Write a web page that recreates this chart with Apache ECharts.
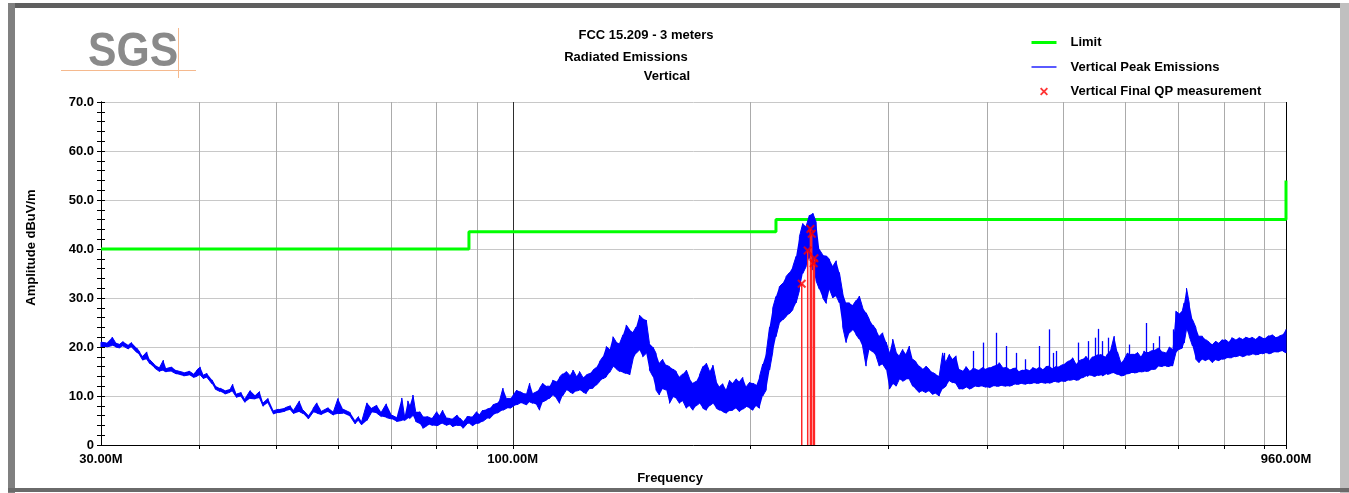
<!DOCTYPE html>
<html>
<head>
<meta charset="utf-8">
<script src="https://cdn.jsdelivr.net/npm/echarts@6/dist/echarts.min.js"></script>
<style>
html, body { margin: 0; padding: 0; background: #ffffff; }
#chart { width: 1349px; height: 493px; }
</style>
</head>
<body>
<div id="chart"></div>
<script>
// ---------------- data ----------------
// Peak emission trace: at each frequency (MHz) the lower and upper edge of the noisy band (dBuV/m)
const peakFreq = [
  30.0, 30.5, 31.0, 31.3, 31.7, 32.0, 32.5, 32.8, 33.3, 33.6, 33.9, 34.3, 34.6, 35.1, 35.6, 36.0, 36.3, 36.9, 37.4, 38.2,
  38.8, 39.3, 39.7, 40.1, 40.5, 40.9, 41.5, 41.9, 42.5, 43.1, 43.8, 44.1, 44.6, 45.2, 45.7, 46.4, 47.1, 47.7, 48.2, 48.9,
  49.7, 50.4, 51.4, 52.2, 52.7, 53.6, 54.2, 55.0, 55.8, 56.4, 57.2, 58.3, 59.2, 60.0, 60.9, 62.2, 63.1, 63.7, 64.3, 65.3,
  66.2, 67.2, 68.1, 69.1, 70.2, 71.2, 72.3, 72.9, 73.6,
  74.0, 74.7, 75.3, 76.2, 76.9, 77.8, 78.5, 79.1, 80.1, 80.8, 81.5, 82.5, 83.3, 84.0, 85.0, 85.7, 86.5, 87.5, 88.2, 89.0,
  90.0, 90.8, 91.6, 92.7, 93.5, 94.4, 95.5, 96.3, 97.2, 98.3, 99.2, 100.0, 101.2, 102.1, 103.0, 104.2, 105.1, 106.1, 107.3, 108.2,
  109.2, 110.5, 111.4, 112.4, 113.7, 114.7,
  115.7, 117.0, 118.2, 119.3, 120.5, 121.6, 122.8, 124.0, 125.3, 126.5, 127.7, 128.9, 130.2, 131.5, 132.8, 134.1, 135.4, 136.7, 138.1, 139.4,
  140.8, 142.2, 143.5, 144.9, 146.3, 147.8, 149.2, 150.7, 152.1, 153.6, 155.1, 156.7, 158.2, 159.8, 161.4, 162.9, 164.5, 166.2, 167.8, 169.4,
  171.1, 172.7, 174.4, 176.2, 177.9, 179.6, 181.4, 183.1, 184.9, 186.8, 188.6, 190.4, 192.3, 194.1, 196.0, 198.0, 200.0, 201.9, 203.9, 205.8,
  207.8, 209.9, 212.0, 214.0, 216.0, 218.1, 220.3, 222.5, 224.7, 226.9, 229.1, 231.3, 233.6, 235.9, 238.2, 240.6, 242.9,
  245.2, 247.7, 250.2, 252.6, 255.1, 257.6, 260.0, 262.6, 265.2, 267.8, 270.4, 273.0, 275.6, 278.4, 281.1, 283.9, 286.7, 289.4, 292.2, 295.1,
  298.1, 301.0, 303.9, 306.9, 309.8, 312.9, 316.0, 319.1, 322.2, 325.3, 328.4, 331.7, 335.0, 338.3, 341.6, 344.9, 348.2, 351.7, 355.2, 358.7,
  362.2, 365.7, 369.2, 372.9, 376.6, 380.3, 384.0, 387.7, 391.4, 395.3, 399.3, 403.2, 407.1, 411.1, 415.0, 419.1, 423.3, 427.5, 431.6, 435.8,
  439.9, 444.3, 448.7, 453.2, 457.6, 462.0, 466.4, 471.1, 475.8, 480.5, 485.1, 489.8, 494.5, 499.4, 504.4, 509.4, 514.3, 519.3, 524.2,
  529.5, 534.8, 537.4, 540.0, 545.2, 549.5, 553.8, 558.6, 561.3, 566.9, 569.6, 575.2, 580.8, 586.4, 592.2, 598.1, 603.9, 609.8, 615.6, 621.7,
  627.7, 633.9, 637.1, 643.5, 649.7, 656.1, 662.3, 668.9, 675.6, 682.2, 688.9, 695.6, 702.2, 709.2, 712.7, 717.6, 723.3, 730.3, 737.5, 744.4,
  751.8, 759.2, 766.8, 774.2, 781.8, 789.2, 796.6, 804.0, 811.7, 819.3, 828.0, 836.7, 844.6, 852.7, 860.6, 868.8, 877.1, 887.1, 895.4, 903.9,
  912.8, 921.6, 930.5, 940.5, 950.5, 960.0
];
const peakLow = [
  20.0, 20.0, 20.3, 20.0, 19.8, 20.2, 19.6, 20.0, 18.9, 18.3, 17.3, 17.5, 16.6, 15.7, 15.0, 15.2, 14.9, 15.0, 14.5, 14.1,
  14.3, 13.8, 14.0, 14.3, 13.5, 13.8, 12.5, 11.4, 10.9, 10.4, 10.8, 10.9, 9.7, 9.9, 8.7, 9.5, 9.4, 9.6, 7.9, 8.6,
  6.3, 6.6, 6.9, 7.2, 6.4, 6.8, 6.4, 5.3, 6.7, 6.5, 6.2, 6.8, 6.1, 6.4, 6.5, 5.8, 4.3, 5.0, 4.1, 5.0,
  6.7, 6.5, 5.8, 5.6, 5.3, 4.8, 5.0, 5.0, 5.5,
  5.4, 6.0, 4.8, 4.4, 3.4, 3.9, 4.2, 4.0, 3.9, 4.2, 4.4, 4.0, 4.2, 3.7, 4.0, 4.0, 3.4, 4.3, 4.4, 3.9,
  4.4, 4.5, 4.8, 5.4, 5.4, 6.1, 6.5, 6.8, 7.1, 7.5, 7.5, 7.8, 8.2, 8.5, 8.5, 8.2, 8.8, 8.5, 8.2, 7.1,
  8.8, 9.2, 9.5, 10.2, 9.5, 8.5,
  10.0, 11.2, 10.8, 10.5, 11.0, 11.2, 10.8, 10.5, 11.5, 11.6, 12.2, 12.9, 13.5, 13.9, 14.8, 16.0, 15.5, 15.0, 14.8, 14.6,
  14.3, 17.5, 18.7, 19.4, 18.0, 18.7, 15.3, 14.0, 11.2, 10.2, 11.5, 11.2, 8.5, 9.8, 9.5, 8.5, 9.0, 7.5, 8.0, 7.1,
  8.0, 8.5, 7.5, 7.1, 8.0, 8.5, 7.5, 7.1, 6.8, 6.5, 7.0, 7.1, 7.5, 6.8, 7.3, 7.8, 7.5, 7.1, 8.0, 7.5,
  10.0, 11.2, 15.3, 19.0, 22.1, 24.8, 25.5, 26.2, 26.8, 27.6, 29.0, 31.5, 35.0, 36.4, 38.4, 35.7, 33.5,
  31.8, 30.0, 28.9, 31.8, 30.0, 30.4, 29.0, 24.0, 20.9, 22.9, 23.5, 22.5, 21.6, 20.0, 16.1, 19.5, 19.0, 18.2, 16.1, 16.5,
  15.4, 11.4, 12.5, 12.0, 13.4, 13.0, 13.4, 13.4, 12.0, 11.4, 10.7, 11.0, 10.7, 11.0, 10.3, 10.5, 10.0, 11.5, 12.0, 13.1,
  12.7, 12.5, 11.4, 11.4, 11.8, 11.4, 11.7, 12.0, 11.9, 12.0, 11.8, 11.7, 12.0, 12.0, 12.0, 12.1, 12.0, 12.0, 12.2, 12.4,
  12.4, 12.5, 12.4, 12.5, 12.6, 12.6, 12.6, 12.7, 12.6, 12.6, 12.8, 12.9, 12.8, 13.0, 13.0, 13.2, 13.3, 13.2, 13.3,
  13.7, 14.1, 14.0, 14.2, 14.1, 14.0, 14.2, 14.3, 14.1, 14.5, 14.4, 14.6, 14.7, 14.4, 14.1, 14.2, 14.5, 14.7, 14.7, 14.8,
  14.9, 15.0, 15.0, 15.1, 15.4, 15.5, 16.1, 16.0, 16.1, 16.0, 16.1, 18.8, 19.5, 19.8, 20.8, 23.6, 22.2, 20.2, 17.5, 16.8,
  17.5, 17.2, 17.5, 16.8, 17.4, 17.2, 17.5, 17.6, 17.8, 17.8, 18.0, 18.2, 18.0, 18.2, 18.3, 18.5, 18.4, 18.5, 18.6, 18.8,
  18.6, 18.8, 19.0, 19.0, 19.2, 18.8
];
const peakHigh = [
  21.0, 20.8, 22.0, 20.9, 20.6, 21.1, 20.4, 20.9, 19.8, 19.0, 18.1, 19.0, 17.4, 16.4, 15.8, 17.3, 15.6, 15.9, 15.2, 14.8,
  15.1, 14.5, 15.3, 15.9, 14.3, 14.6, 13.3, 12.1, 11.6, 11.1, 11.5, 12.4, 10.4, 10.7, 9.4, 11.1, 10.1, 10.9, 8.6, 9.5,
  7.0, 7.3, 7.6, 8.0, 7.1, 9.0, 7.1, 6.0, 7.5, 8.6, 6.9, 7.6, 6.8, 9.5, 7.3, 6.6, 5.0, 5.8, 4.8, 8.6,
  7.5, 8.1, 6.7, 8.4, 6.1, 5.6, 9.6, 5.8, 9.0,
  8.0, 10.2, 6.8, 6.8, 5.8, 5.8, 5.6, 5.5, 6.8, 6.0, 7.1, 5.5, 5.4, 5.4, 6.1, 5.5, 4.8, 5.8, 5.8, 5.8,
  6.8, 6.2, 7.1, 7.3, 7.5, 8.2, 8.5, 9.2, 11.6, 9.5, 9.5, 10.0, 11.2, 10.9, 10.6, 10.5, 12.6, 10.5, 10.9, 11.6,
  12.6, 12.0, 12.0, 13.2, 12.9, 13.9,
  14.5, 15.0, 14.2, 15.3, 14.0, 15.0, 13.8, 14.3, 14.6, 15.3, 15.8, 17.0, 18.0, 20.1, 19.5, 22.1, 21.0, 20.7, 22.5, 24.5,
  23.5, 23.0, 24.1, 26.5, 25.8, 25.5, 20.7, 20.0, 18.7, 16.7, 17.5, 16.3, 16.0, 15.5, 15.0, 13.9, 14.5, 15.3, 13.5, 12.6,
  13.0, 14.3, 16.0, 16.7, 15.0, 16.3, 13.0, 11.9, 12.5, 11.2, 13.2, 12.6, 13.5, 12.9, 13.8, 11.9, 12.8, 12.6, 12.2, 13.9,
  16.5, 18.7, 24.1, 28.0, 30.3, 32.3, 33.0, 34.4, 35.2, 36.4, 38.5, 42.5, 45.2, 44.6, 46.9, 47.3, 45.5,
  39.9, 38.8, 38.6, 37.9, 36.5, 37.6, 35.2, 31.0, 29.0, 29.0, 28.5, 29.5, 30.4, 28.0, 27.0, 25.6, 24.5, 23.6, 22.2, 22.9,
  21.0, 18.8, 21.6, 19.0, 18.2, 19.5, 18.5, 20.2, 17.5, 17.0, 16.1, 15.5, 16.1, 15.4, 14.8, 14.4, 14.1, 18.8, 17.0, 18.5,
  17.5, 18.2, 15.4, 15.1, 16.0, 15.1, 15.6, 15.5, 15.3, 15.8, 15.5, 15.8, 16.0, 16.2, 16.8, 15.8, 15.9, 15.4, 15.6, 15.7,
  15.0, 15.3, 15.4, 15.2, 15.8, 15.5, 15.9, 15.4, 16.0, 16.1, 15.6, 16.0, 16.0, 16.4, 16.8, 17.2, 17.8, 16.5, 17.2,
  17.5, 18.1, 17.8, 17.2, 18.0, 18.2, 18.4, 18.5, 18.3, 18.0, 18.6, 19.5, 22.2, 19.0, 16.8, 17.5, 18.8, 18.5, 18.5, 18.9,
  18.0, 19.2, 19.0, 19.0, 19.3, 19.5, 19.8, 19.0, 18.8, 20.0, 19.5, 27.3, 26.8, 27.5, 29.0, 32.0, 29.0, 25.6, 24.0, 22.2,
  22.2, 21.5, 21.0, 20.5, 21.2, 20.8, 21.5, 21.5, 21.0, 21.9, 21.5, 21.9, 21.6, 22.0, 21.8, 22.0, 21.6, 22.2, 21.9, 21.8,
  22.3, 22.5, 22.0, 22.2, 22.5, 23.6
];

// Narrow single-bin spikes rising above the band (MHz, dBuV/m)
const spikeFreq  = [353.0, 384.0, 395.3, 411.1, 423.3, 435.8, 447.5, 466.4, 480.5, 485.5, 489.8, 522.0, 537.4, 549.5, 553.8, 561.3, 569.6, 606.0, 637.1, 650.0, 662.3, 688.9];
const spikeLevel = [18.8, 19.2, 20.9, 22.9, 20.2, 18.8, 17.5, 20.2, 23.6, 18.8, 19.2, 20.9, 21.2, 21.9, 23.7, 21.2, 21.9, 20.5, 24.9, 20.8, 22.2, 23.6];

// Limit line (step) in MHz / dBuV/m
const limitFreq  = [30, 88, 88, 216, 216, 960, 960];
const limitLevel = [40, 40, 43.5, 43.5, 46, 46, 54];

// Final quasi-peak measurements
const qpFreq  = [232.9, 237.0, 238.9, 239.8, 241.2, 241.7];
const qpLevel = [32.9, 39.7, 44.1, 43.1, 37.1, 38.1];

// Vertical grid frequencies (MHz) and axis ranges
const gridFreqs = [40, 50, 60, 70, 80, 90, 100, 200, 300, 400, 500, 600, 700, 800, 900, 960];
const freqMin = 30, freqMax = 960;
const ampMin = 0, ampMax = 70, ampStep = 10;

// ---------------- chart ----------------
const FONT = '"Liberation Sans", Arial, sans-serif';
const chart = echarts.init(document.getElementById('chart'), null, { renderer: 'canvas' });

const zigzag = [];
peakFreq.forEach((f, i) => {
  if (i % 2 === 0) { zigzag.push([f, peakLow[i]], [f, peakHigh[i]]); }
  else { zigzag.push([f, peakHigh[i]], [f, peakLow[i]]); }
});
const limitData = limitFreq.map((f, i) => [f, limitLevel[i]]);
const qpData = qpFreq.map((f, i) => [f, qpLevel[i]]);
const spikeData = spikeFreq.map((f, i) => [f, spikeLevel[i]]);

// band top at a frequency (lower of the two neighbouring samples)
function bandTopAt(f) {
  for (let i = 0; i < peakFreq.length - 1; i++) {
    if (f >= peakFreq[i] && f <= peakFreq[i + 1]) return Math.min(peakHigh[i], peakHigh[i + 1]);
  }
  return peakHigh[peakHigh.length - 1];
}

const xMark = 'path://M0,1.6 L1.6,0 L5,3.4 L8.4,0 L10,1.6 L6.6,5 L10,8.4 L8.4,10 L5,6.6 L1.6,10 L0,8.4 L3.4,5 Z';

const crisp = v => Math.round(v) + 0.5;

const option = {
  animation: false,
  backgroundColor: '#ffffff',
  textStyle: { fontFamily: FONT },
  grid: { left: 101, right: 63, top: 102, bottom: 48, outerBoundsMode: 'none', containLabel: false },
  legend: {
    orient: 'vertical',
    left: 1030,
    top: 36,
    padding: 0,
    itemWidth: 25,
    itemHeight: 8,
    itemGap: 11.5,
    selectedMode: false,
    data: [
      { name: 'Limit', itemStyle: { opacity: 0 }, lineStyle: { width: 3, color: '#00ff00' } },
      { name: 'Vertical Peak Emissions', itemStyle: { opacity: 0 }, lineStyle: { width: 1.3, color: '#0000ff' } },
      { name: 'Vertical Final QP measurement' }
    ],
    textStyle: { fontFamily: FONT, fontWeight: 'bold', fontSize: 13, color: '#000', padding: [0, 0, 0, 9] }
  },
  xAxis: {
    type: 'log',
    logBase: 10,
    min: freqMin,
    max: freqMax,
    name: 'Frequency',
    nameLocation: 'middle',
    nameGap: 27,
    nameTextStyle: { fontFamily: FONT, fontWeight: 'bold', fontSize: 13, color: '#000', padding: [0, 47, 0, 0] },
    axisLine: { show: true, lineStyle: { color: '#000', width: 1 } },
    axisTick: { show: false },
    splitLine: { show: false },
    minorTick: { show: false },
    minorSplitLine: { show: false },
    axisLabel: {
      showMinLabel: true, showMaxLabel: true, hideOverlap: false,
      margin: 8,
      fontFamily: FONT, fontWeight: 'bold', fontSize: 13, color: '#000',
      formatter: v => Number(v).toFixed(2) + 'M'
    }
  },
  yAxis: [
    {
      type: 'value',
      position: 'left',
      min: ampMin, max: ampMax, interval: ampStep,
      name: 'Amplitude dBuV/m',
      nameLocation: 'middle',
      nameRotate: 90,
      nameGap: 63,
      nameTextStyle: { fontFamily: FONT, fontWeight: 'bold', fontSize: 13, color: '#000', padding: [0, 0, 0, 52] },
      axisLine: { show: true, lineStyle: { color: '#000', width: 1 } },
      axisTick: { show: true, inside: false, length: 4, lineStyle: { color: '#000' } },
      minorTick: { show: true, splitNumber: 5, length: 4, lineStyle: { color: '#000' } },
      splitLine: { show: true, lineStyle: { color: '#c8c8c8', width: 1 } },
      axisLabel: {
        margin: 7,
        fontFamily: FONT, fontWeight: 'bold', fontSize: 13, color: '#000',
        formatter: v => (v === 0 ? '0' : v.toFixed(1))
      }
    },
    {
      type: 'value',
      position: 'left',
      offset: 0,
      min: ampMin, max: ampMax, interval: ampStep,
      axisLine: { show: true, lineStyle: { color: '#000', width: 1 } },
      axisTick: { show: true, inside: true, length: 4, lineStyle: { color: '#000' } },
      minorTick: { show: true, splitNumber: 5, length: 4, lineStyle: { color: '#000' } },
      splitLine: { show: false },
      axisLabel: { show: false }
    }
  ],
  graphic: [
    // outer frame
    { type: 'rect', silent: true, shape: { x: 8, y: 3, width: 1341, height: 5 }, style: { fill: '#5f5f5f' } },
    { type: 'rect', silent: true, shape: { x: 8, y: 3, width: 7, height: 490 }, style: { fill: '#808080' } },
    { type: 'rect', silent: true, shape: { x: 1340, y: 3, width: 9, height: 490 }, style: { fill: '#c0c0c0' } },
    { type: 'rect', silent: true, shape: { x: 8, y: 488, width: 1341, height: 4 }, style: { fill: '#6a6a6a' } },
    // SGS logo
    { type: 'text', silent: true, x: 88, y: 53, scaleX: 0.89,
      style: { text: 'SGS', font: 'bold 48px "Liberation Sans", Arial, sans-serif', fill: '#8a8a8a', textVerticalAlign: 'middle' } },
    { type: 'line', silent: true, shape: { x1: 61, y1: 70.5, x2: 196, y2: 70.5 }, style: { stroke: '#f5b98e', lineWidth: 1 } },
    { type: 'line', silent: true, shape: { x1: 178.5, y1: 28, x2: 178.5, y2: 78 }, style: { stroke: '#f5b98e', lineWidth: 1 } },
    // titles
    { type: 'text', silent: true, x: 646, y: 35,
      style: { text: 'FCC 15.209 - 3 meters', font: 'bold 13px "Liberation Sans", Arial, sans-serif', fill: '#000', textAlign: 'center', textVerticalAlign: 'middle' } },
    { type: 'text', silent: true, x: 626, y: 57,
      style: { text: 'Radiated Emissions', font: 'bold 13px "Liberation Sans", Arial, sans-serif', fill: '#000', textAlign: 'center', textVerticalAlign: 'middle' } },
    { type: 'text', silent: true, x: 667, y: 76,
      style: { text: 'Vertical', font: 'bold 13px "Liberation Sans", Arial, sans-serif', fill: '#000', textAlign: 'center', textVerticalAlign: 'middle' } }
  ],
  series: [
    {
      name: 'gridlines',
      type: 'custom',
      silent: true,
      clip: false,
      data: gridFreqs.map(f => [f, ampMin]),
      encode: { x: 0, y: 1 },
      renderItem: (params, api) => {
        const f = api.value(0);
        const top = api.coord([f, ampMax]);
        const bot = api.coord([f, ampMin]);
        const x = crisp(top[0]);
        const color = f === 100 ? '#2e2e2e' : (f === freqMax ? '#000000' : '#ababab');
        return {
          type: 'group',
          children: [
            { type: 'line', shape: { x1: x, y1: top[1], x2: x, y2: bot[1] }, style: { stroke: color, lineWidth: 1 } },
            { type: 'line', shape: { x1: x, y1: bot[1], x2: x, y2: bot[1] + 4 }, style: { stroke: '#000', lineWidth: 1 } }
          ]
        };
      },
      z: 1
    },
    {
      name: 'Limit',
      type: 'line',
      data: limitData,
      symbol: 'none',
      color: '#00ff00',
      lineStyle: { color: '#00ff00', width: 3 },
      z: 3
    },
    {
      name: 'peakBand',
      type: 'custom',
      silent: true,
      data: [[peakFreq[0], peakLow[0]]],
      encode: { x: 0, y: 1 },
      renderItem: (params, api) => {
        const pts = [];
        for (let i = 0; i < peakFreq.length; i++) pts.push(api.coord([peakFreq[i], peakHigh[i]]));
        for (let i = peakFreq.length - 1; i >= 0; i--) pts.push(api.coord([peakFreq[i], peakLow[i]]));
        return { type: 'polygon', shape: { points: pts }, style: { fill: '#0000ff' } };
      },
      z: 4
    },
    {
      name: 'peakSpikes',
      type: 'custom',
      silent: true,
      data: spikeData,
      encode: { x: 0, y: 1 },
      renderItem: (params, api) => {
        const f = api.value(0);
        const a = api.coord([f, bandTopAt(f) - 0.5]);
        const b = api.coord([f, api.value(1)]);
        const x = crisp(a[0]);
        return { type: 'line', shape: { x1: x, y1: a[1], x2: x, y2: b[1] }, style: { stroke: '#0000ff', lineWidth: 1.3 } };
      },
      z: 4
    },
    {
      name: 'Vertical Peak Emissions',
      type: 'line',
      data: zigzag,
      symbol: 'none',
      color: '#0000ff',
      lineStyle: { color: '#0000ff', width: 1 },
      z: 5
    },
    {
      name: 'qpLines',
      type: 'custom',
      silent: true,
      data: qpData,
      encode: { x: 0, y: 1 },
      renderItem: (params, api) => {
        const f = api.value(0);
        const a = api.coord([f, ampMin]);
        const b = api.coord([f, api.value(1)]);
        return { type: 'line', shape: { x1: a[0], y1: a[1], x2: b[0], y2: b[1] }, style: { stroke: '#ff2626', lineWidth: 1.5 } };
      },
      z: 6
    },
    {
      name: 'Vertical Final QP measurement',
      type: 'scatter',
      data: qpData,
      symbol: xMark,
      symbolSize: 9,
      color: '#ff0000',
      itemStyle: { color: '#ff0000' },
      z: 7
    }
  ]
};

chart.setOption(option);
</script>
</body>
</html>
